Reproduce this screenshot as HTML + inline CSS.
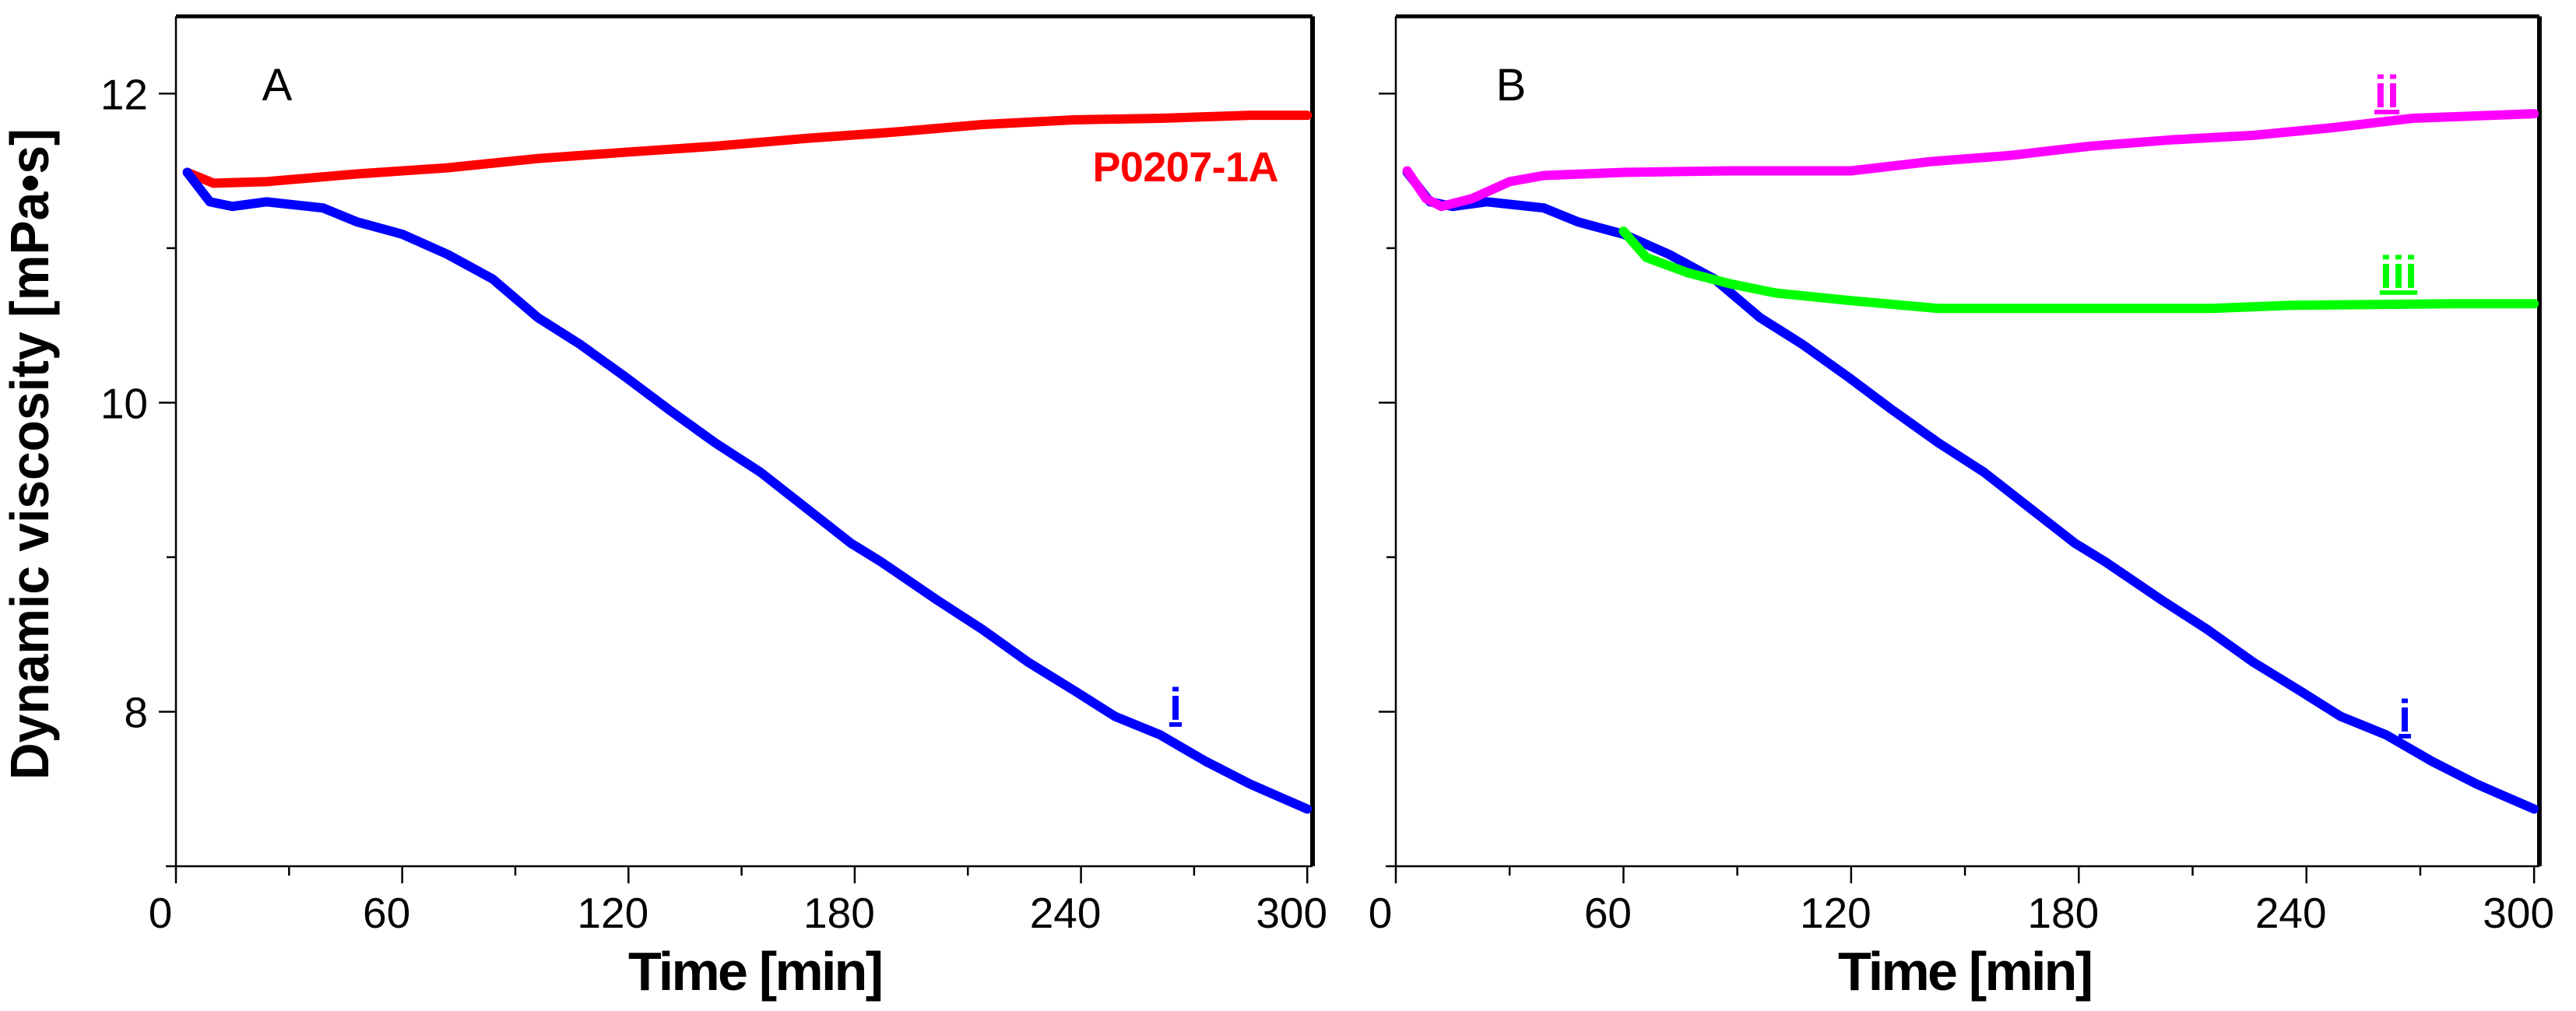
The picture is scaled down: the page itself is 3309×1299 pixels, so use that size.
<!DOCTYPE html>
<html><head><meta charset="utf-8"><style>
html,body{margin:0;padding:0;background:#fff;}
svg{display:block;font-family:"Liberation Sans",Arial,sans-serif;}
</style></head><body>
<svg id="chart" width="3309" height="1299" viewBox="0 0 3309 1299">
<text x="62" y="1002" font-size="70" font-weight="bold" textLength="837" lengthAdjust="spacingAndGlyphs" transform="rotate(-90 62 1002)">Dynamic viscosity [mPa•s]</text>
<g id="pA"></g>
<g id="pB"></g>
</svg>
<script>
const timeI=[3,9,15,24,39,48,60,72,84,96,107,119,131,143,155,167,179,187,202,214,226,238,249,261,273,285,300];
const valI=[11.49,11.30,11.27,11.30,11.26,11.17,11.09,10.96,10.80,10.55,10.38,10.17,9.95,9.74,9.55,9.32,9.09,8.97,8.72,8.53,8.32,8.14,7.97,7.85,7.68,7.53,7.37];
const timeRed=[3,10,24,48,72,96,119,143,167,190,214,238,261,285,300];
const valRed=[11.49,11.42,11.43,11.48,11.52,11.58,11.62,11.66,11.71,11.75,11.80,11.83,11.84,11.86,11.86];
const timeII=[3,8,12,20,30,39,60,88,120,141,162,183,204,226,247,268,300];
const valII=[11.50,11.32,11.27,11.32,11.43,11.47,11.49,11.50,11.50,11.56,11.60,11.66,11.70,11.73,11.78,11.84,11.87];
const timeIII=[60,66,77,88,100,120,143,173,215,236,279,300];
const valIII=[11.11,10.94,10.84,10.77,10.71,10.66,10.61,10.61,10.61,10.63,10.64,10.64];
const xTicks=[0,60,120,180,240,300];
const yTicks=[8,10,12];
const NS="http://www.w3.org/2000/svg";
const Y0=7,Y1=12.5,TOP=21,BOT=1113;
function yS(v){return BOT-(v-Y0)/(Y1-Y0)*(BOT-TOP);}
function mk(g,tag,at){const e=document.createElementNS(NS,tag);for(const k in at)e.setAttribute(k,at[k]);g.appendChild(e);return e;}
function panel(g,L,R,showY){
  const xS=t=>L+t/301.4*(R-L);
  let e;
  e=mk(g,'line',{x1:L,y1:TOP,x2:R,y2:TOP,stroke:'#000','stroke-width':5});
  
  
  e=mk(g,'line',{x1:R,y1:TOP,x2:R,y2:BOT,stroke:'#000','stroke-width':6});
  
  
  e=mk(g,'line',{x1:L,y1:TOP,x2:L,y2:BOT+22,stroke:'#000','stroke-width':2.5});
  
  
  e=mk(g,'line',{x1:L-13,y1:BOT,x2:R,y2:BOT,stroke:'#000','stroke-width':2.5});
  
  
  for(let t=30;t<=300;t+=30){
    const major=t%60===0;
    e=mk(g,'line',{x1:xS(t),y1:BOT,x2:xS(t),y2:BOT+(major?22:12),stroke:'#000','stroke-width':2.5});
    
    
  }
  for(let v=8;v<=12;v++){
    const major=v%2===0;
    e=mk(g,'line',{x1:L-(major?22:12),y1:yS(v),x2:L,y2:yS(v),stroke:'#000','stroke-width':2.5});
    
    
  }
  xTicks.forEach(t=>{
    e=mk(g,'text',{x:xS(t)-20,y:1192,'font-size':55,'text-anchor':'middle'});
    e.textContent=t;
    
    
  });
  if(showY) yTicks.forEach(v=>{
    e=mk(g,'text',{x:L-36,y:yS(v)+20,'font-size':55,'text-anchor':'end'});
    e.textContent=v;
    
    
  });
  return xS;
}
function line(g,xS,ts,vs,col,name){
  const d=ts.map((t,i)=>(i?'L':'M')+xS(t).toFixed(1)+' '+yS(vs[i]).toFixed(1)).join(' ');
  const e=mk(g,'path',{d:d,fill:'none',stroke:col,'stroke-width':12,'stroke-linejoin':'round','stroke-linecap':'round'});
  
  
}
function label(g,x,y,txt,col,size,bold,name,ul){
  const e=mk(g,'text',{x:x,y:y,'font-size':size,fill:col,'text-anchor':'middle','font-weight':bold?'bold':'normal'});
  e.textContent=txt;
  if(ul)e.setAttribute('text-decoration','underline');
  
  
  return e;
}
const gA=document.getElementById('pA'),gB=document.getElementById('pB');
const xA=panel(gA,226,1686,true);
line(gA,xA,timeRed,valRed,'#ff0000','series-p0207-1a');
line(gA,xA,timeI,valI,'#0000ff','series-i');
label(gA,356,129,'A','#000',58,false,'panel-a-label');
let t=label(gA,1523,233,'P0207-1A','#ff0000',54,true,'label-p0207-1a');
t.setAttribute('textLength','239');
label(gA,1510,925,'i','#0000ff',58,true,'label-i-a',true);
let tt=label(gA,971,1272,'Time [min]','#000',70,true,'x-axis-title-a');
tt.setAttribute('textLength','328');
const xB=panel(gB,1793,3262,false);
line(gB,xB,timeI,valI,'#0000ff','series-i-b');
line(gB,xB,timeIII,valIII,'#00ff00','series-iii');
line(gB,xB,timeII,valII,'#ff00ff','series-ii');
label(gB,1941,129,'B','#000',58,false,'panel-b-label');
label(gB,3066,138,'ii','#ff00ff',58,true,'label-ii',true);
label(gB,3081,370,'iii','#00ff00',58,true,'label-iii',true);
label(gB,3089,940,'i','#0000ff',58,true,'label-i-b',true);
tt=label(gB,2525,1272,'Time [min]','#000',70,true,'x-axis-title-b');
tt.setAttribute('textLength','328');
</script>
</body></html>
